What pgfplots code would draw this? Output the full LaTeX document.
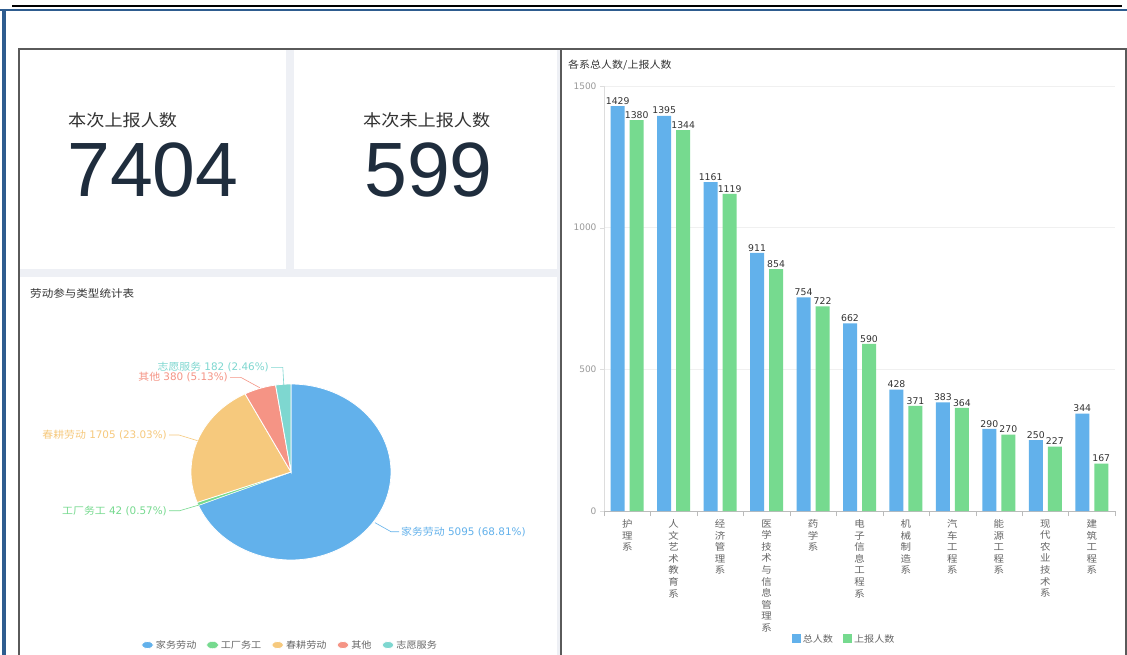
\documentclass[border=0pt]{standalone}
\usepackage{fontspec}
\setmainfont{DejaVu Sans}
\newfontfamily\cjk{Noto Sans CJK SC}[FakeStretch=1.1]
\newfontfamily\numfont{Liberation Sans}
\usepackage{pgfplots}
\pgfplotsset{compat=1.18}
\usepackage{pgfplotstable}
\newcommand\C[1]{{\cjk #1}}
\definecolor{cblue}{HTML}{62B1EB}
\definecolor{cgreen}{HTML}{76DA8F}
\definecolor{corange}{HTML}{F6C97D}
\definecolor{csalmon}{HTML}{F59485}
\definecolor{cteal}{HTML}{7ED7D0}
\definecolor{panelgray}{HTML}{EEF0F5}
\definecolor{framegray}{HTML}{5A5A5A}
\definecolor{navy}{HTML}{2E5C8F}
\definecolor{numcol}{HTML}{1F2D3D}
\definecolor{txt}{HTML}{333333}
\definecolor{tickgray}{HTML}{666666}
\definecolor{ylab}{HTML}{999999}
\definecolor{axgray}{HTML}{BBBBBB}
\definecolor{ygray}{HTML}{DDDDDD}
\definecolor{gridgray}{HTML}{F0F0F0}
\pgfplotsset{
  sqlegend/.style={legend image code/.code={\fill[##1] (0pt,-4.5pt) rectangle (9pt,4.5pt);}},
  elllegend/.style={legend image code/.code={\fill[##1] (6pt,0pt) ellipse [x radius=6pt, y radius=3.5pt];}},
}
\pgfplotstableread{
idx total reported
0 1429 1380
1 1395 1344
2 1161 1119
3 911 854
4 754 722
5 662 590
6 428 371
7 383 364
8 290 270
9 250 227
10 344 167
}\barsdata
\begin{document}
\begin{tikzpicture}
\begin{scope}[x=1pt,y=-1pt]
\useasboundingbox (0,0) rectangle (1127,655);
\fill[white] (0,0) rectangle (1127,655);
\fill[panelgray] (20,49) rectangle (560,655);
\fill[white] (20,49) rectangle (286,269);
\fill[white] (293.5,49) rectangle (557,269);
\fill[white] (20,276.5) rectangle (557,655);
\fill[white] (561,49) rectangle (1126,655);
% KPI
\node[anchor=west, inner sep=0, text=txt] at (68,120) {\cjk\fontsize{16.5}{18}\selectfont 本次上报人数};
\node[anchor=base west, inner sep=0, text=numcol] at (67,197) {\numfont\fontsize{77}{80}\selectfont 7404};
\node[anchor=west, inner sep=0, text=txt] at (363,120) {\cjk\fontsize{16.5}{18}\selectfont 本次未上报人数};
\node[anchor=base west, inner sep=0, text=numcol] at (364,197) {\numfont\fontsize{77}{80}\selectfont 599};
% titles
\node[anchor=west, inner sep=0, text=txt] at (30,293) {\cjk\fontsize{10.5}{12}\selectfont 劳动参与类型统计表};
\node[anchor=west, inner sep=0, text=txt] at (568,65) {\cjk\fontsize{10}{12}\selectfont 各系总人数/上报人数};
\end{scope}

% bar chart
\begin{axis}[
  at={(604pt,-511pt)}, anchor=south west, scale only axis,
  width=511pt, height=425pt,
  xmin=-0.5, xmax=10.5, ymin=0, ymax=1500,
  ybar=5pt, bar width=14pt,
  axis x line*=bottom, axis y line*=left,
  x axis line style={draw=axgray},
  y axis line style={draw=ygray},
  xtick={0,...,10},
  xticklabels={{护\\理\\系},{人\\文\\艺\\术\\教\\育\\系},{经\\济\\管\\理\\系},{医\\学\\技\\术\\与\\信\\息\\管\\理\\系},{药\\学\\系},{电\\子\\信\\息\\工\\程\\系},{机\\械\\制\\造\\系},{汽\\车\\工\\程\\系},{能\\源\\工\\程\\系},{现\\代\\农\\业\\技\\术\\系},{建\\筑\\工\\程\\系}},
  xticklabel style={align=center, anchor=north, text=tickgray, font=\fontsize{9.5}{11.6}\selectfont\cjk, yshift=-1pt},
  minor xtick={-0.5,0.5,...,10.5},
  major x tick style={draw=none},
  minor x tick style={draw=axgray},
  tick align=outside,
  minor tick length=5pt, major tick length=4pt,
  ytick={0,500,1000,1500},
  ytick style={draw=ygray},
  yticklabel style={text=ylab, font=\fontsize{9}{10}\selectfont},
  ymajorgrids, grid style={draw=gridgray},
  /pgf/number format/1000 sep={},
  /pgf/number format/assume math mode=true,
  nodes near coords,
  every node near coord/.append style={font=\fontsize{9.3}{10}\selectfont, text=txt, anchor=south, inner sep=1.5pt},
  legend style={at={(0.47,-0.301)}, anchor=center, draw=none, fill=none, font=\fontsize{9.2}{11}\selectfont\cjk, text=tickgray, legend columns=2, /tikz/every even column/.append style={column sep=8pt}},
]
\addplot[fill=cblue, draw=none, sqlegend] table[x=idx, y=total] {\barsdata};
\addlegendentry{总人数}
\addplot[fill=cgreen, draw=none, sqlegend] table[x=idx, y=reported] {\barsdata};
\addlegendentry{上报人数}
\end{axis}

% pie
\pgfmathsetmacro\aA{90}
\pgfmathsetmacro\aB{\aA-360*(5095/7404)}
\pgfmathsetmacro\aC{\aB-360*(42/7404)}
\pgfmathsetmacro\aD{\aC-360*(1705/7404)}
\pgfmathsetmacro\aE{\aD-360*(380/7404)}
\pgfmathsetmacro\aF{\aE-360*(182/7404)}
\begin{axis}[
  at={(191pt,-560pt)}, anchor=south west, scale only axis,
  width=200pt, height=176pt,
  xmin=-1, xmax=1, ymin=-1, ymax=1, hide axis,
  elllegend,
  legend style={at={(0.495,-0.483)}, anchor=center, draw=none, fill=none, font=\fontsize{9.2}{11}\selectfont\cjk, text=tickgray, legend columns=5, /tikz/every even column/.append style={column sep=8pt}},
]
\addplot[fill=cblue, draw=white, line width=0.8pt, domain=\aB:\aA, samples=120] ({cos(x)},{sin(x)}) -- (axis cs:0,0) -- cycle;
\addlegendentry{家务劳动}
\addplot[fill=cgreen, draw=white, line width=0.4pt, domain=\aC:\aB, samples=5] ({cos(x)},{sin(x)}) -- (axis cs:0,0) -- cycle;
\addlegendentry{工厂务工}
\addplot[fill=corange, draw=white, line width=0.8pt, domain=\aD:\aC, samples=60] ({cos(x)},{sin(x)}) -- (axis cs:0,0) -- cycle;
\addlegendentry{春耕劳动}
\addplot[fill=csalmon, draw=white, line width=0.8pt, domain=\aE:\aD, samples=20] ({cos(x)},{sin(x)}) -- (axis cs:0,0) -- cycle;
\addlegendentry{其他}
\addplot[fill=cteal, draw=white, line width=0.8pt, domain=\aF:\aE, samples=10] ({cos(x)},{sin(x)}) -- (axis cs:0,0) -- cycle;
\addlegendentry{志愿服务}
\end{axis}

\begin{scope}[x=1pt,y=-1pt]
% pie labels
\draw[cblue, line width=0.6pt] (375,522.7) -- (391,531.7) -- (399,531.7);
\node[anchor=west, inner sep=0, text=cblue] at (401,531.7) {\fontsize{10.4}{12}\selectfont\C{\fontsize{9.9}{12}\selectfont 家务劳动} 5095 (68.81\%)};
\draw[cgreen, line width=0.6pt] (199,505) -- (179.7,510.7) -- (169,510.7);
\node[anchor=east, inner sep=0, text=cgreen] at (167,510.7) {\fontsize{10.4}{12}\selectfont\C{\fontsize{9.9}{12}\selectfont 工厂务工} 42 (0.57\%)};
\draw[corange, line width=0.6pt] (197.6,440.7) -- (179,435) -- (169,435);
\node[anchor=east, inner sep=0, text=corange] at (167,435) {\fontsize{10.4}{12}\selectfont\C{\fontsize{9.9}{12}\selectfont 春耕劳动} 1705 (23.03\%)};
\draw[csalmon, line width=0.6pt] (259.7,387.7) -- (240.7,377.3) -- (230,377.3);
\node[anchor=east, inner sep=0, text=csalmon] at (228,377.3) {\fontsize{10.4}{12}\selectfont\C{\fontsize{9.9}{12}\selectfont 其他} 380 (5.13\%)};
\draw[cteal, line width=0.6pt] (283.8,385) -- (282.8,367.3) -- (271,367.3);
\node[anchor=east, inner sep=0, text=cteal] at (269,367.3) {\fontsize{10.4}{12}\selectfont\C{\fontsize{9.9}{12}\selectfont 志愿服务} 182 (2.46\%)};
% frames
\fill[black] (12,4.7) rectangle (1122,6.9);
\fill[navy] (0,9) rectangle (1127,11.2);
\fill[navy] (2,9) rectangle (5.8,655);
\fill[framegray] (18,47.7) rectangle (1127,49.7);
\fill[framegray] (18,47.7) rectangle (20,655);
\fill[framegray] (559.7,47.7) rectangle (561.7,655);
\fill[framegray] (1125,47.7) rectangle (1127,655);
\end{scope}
\end{tikzpicture}
\end{document}
